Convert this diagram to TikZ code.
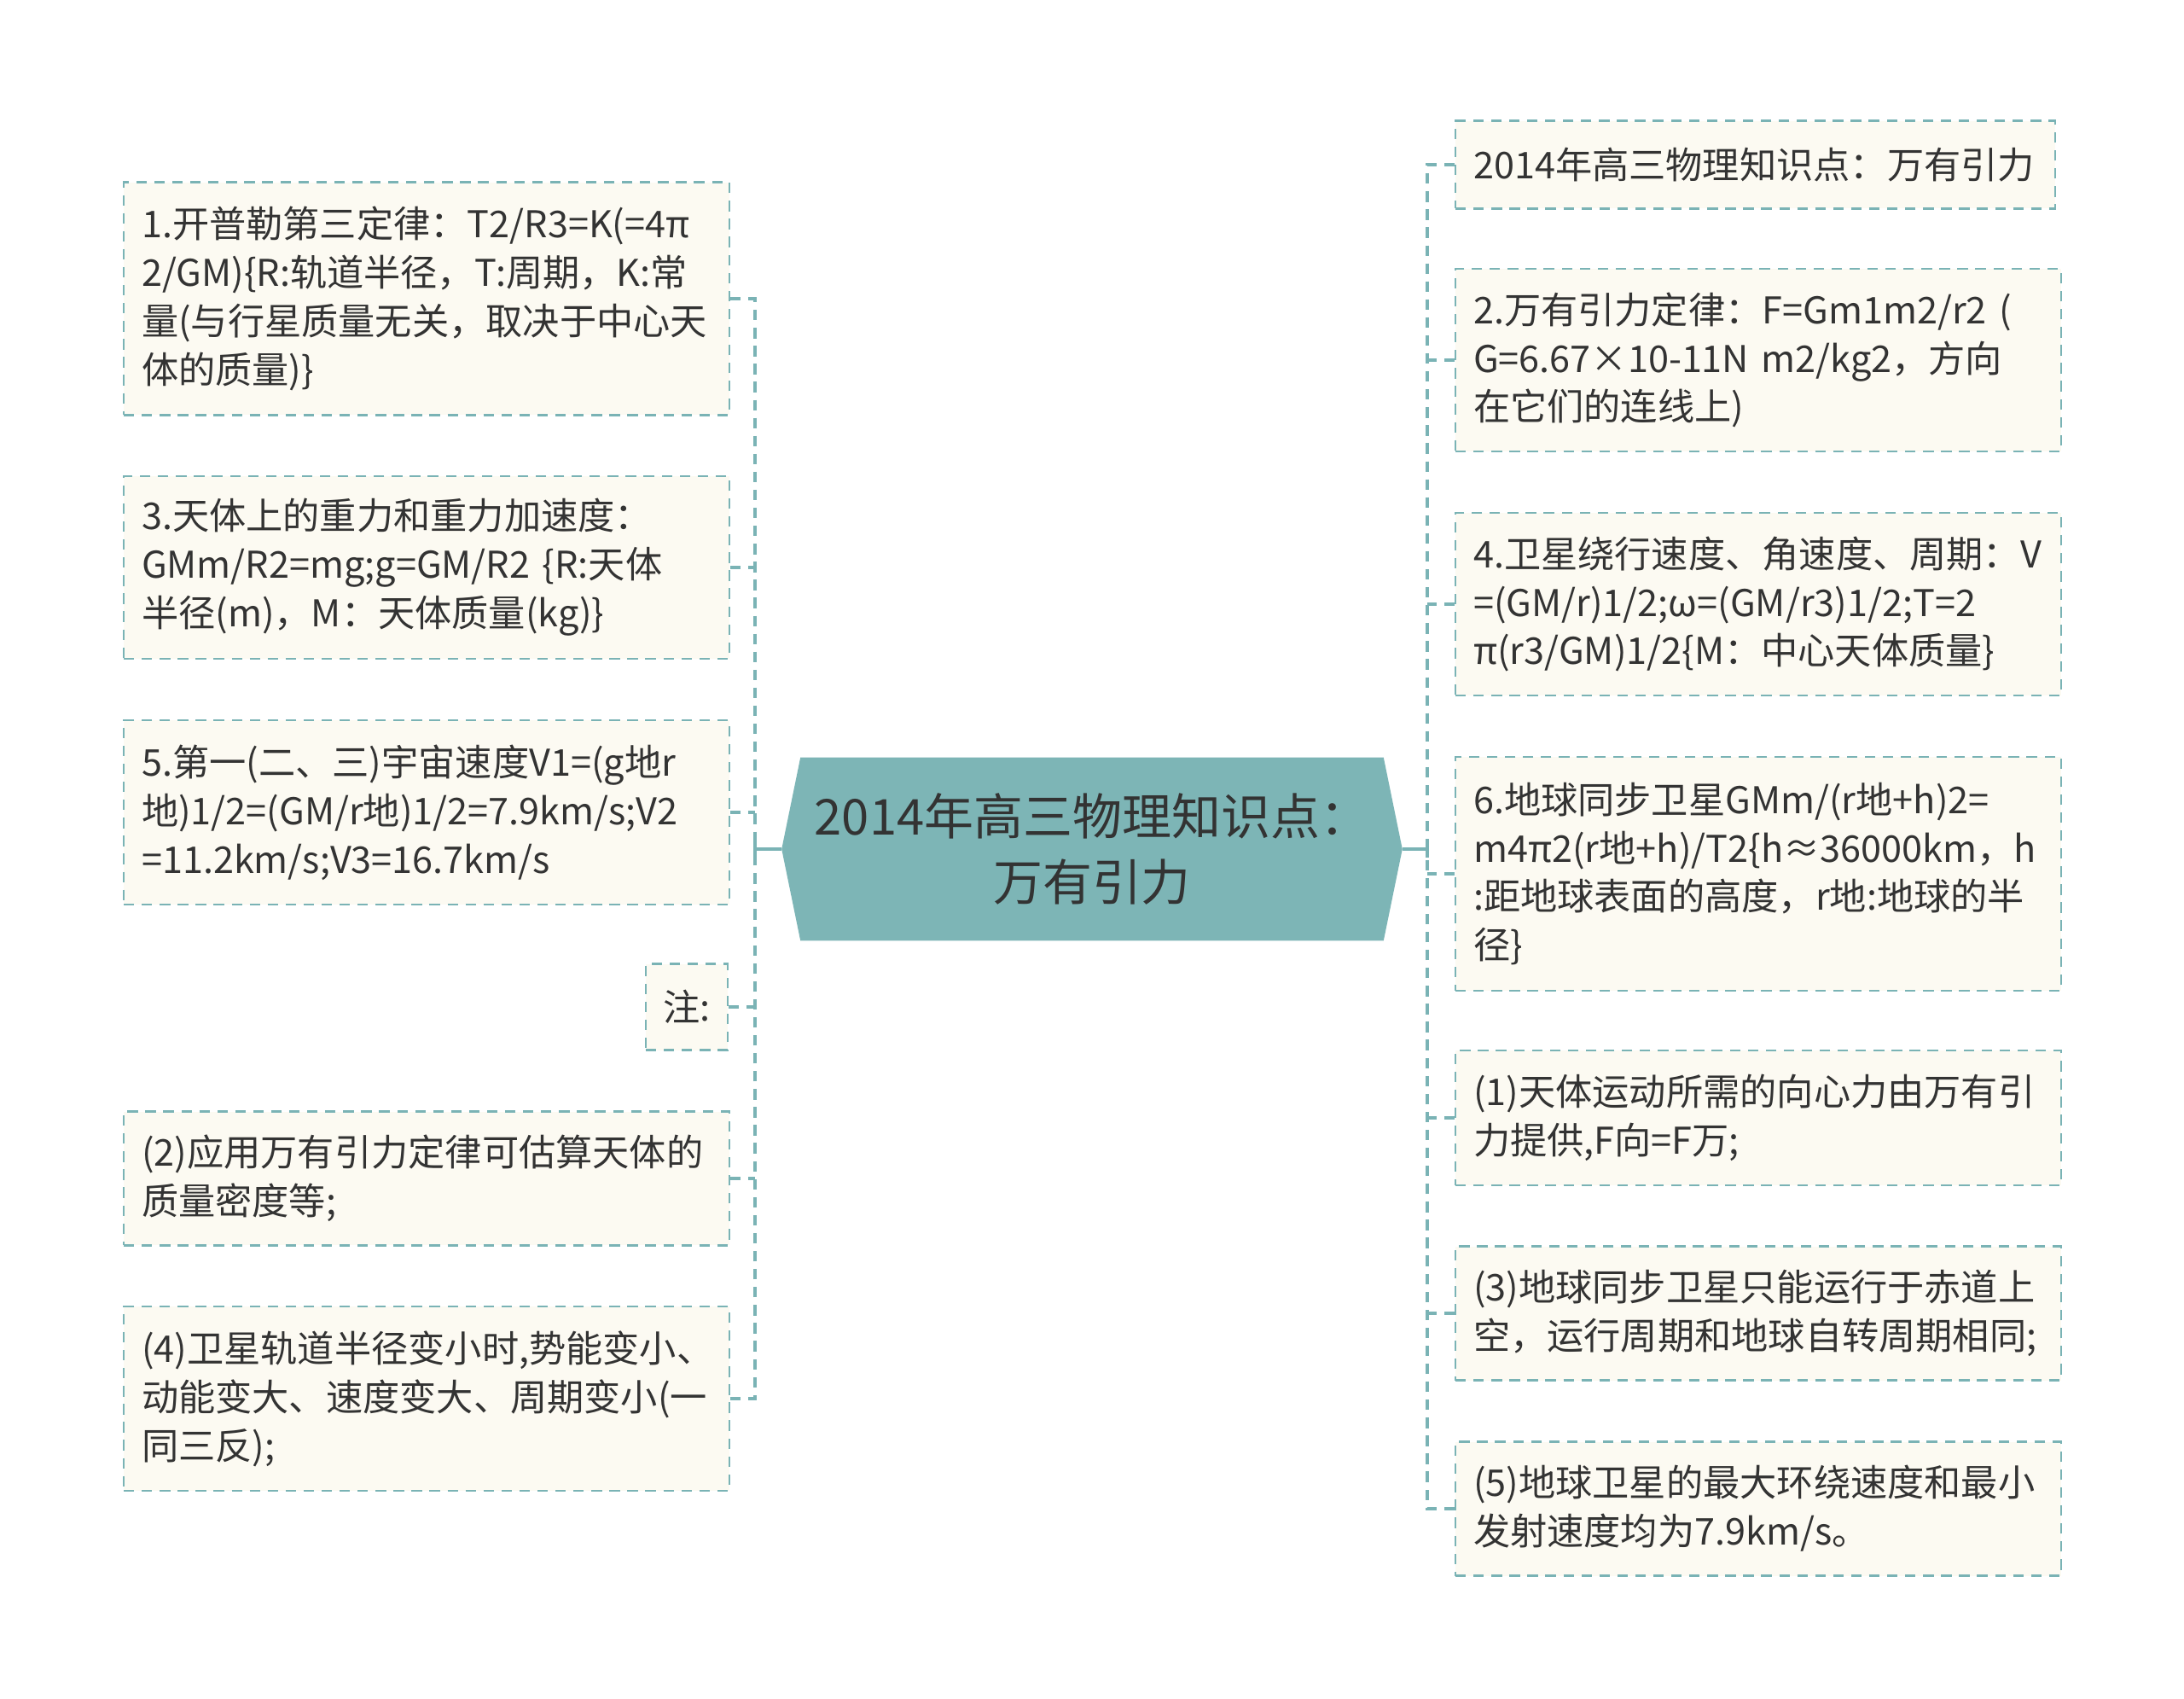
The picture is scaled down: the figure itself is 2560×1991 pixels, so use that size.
\documentclass[tikz,border=0pt]{standalone}
\usepackage{fontspec}
\setmainfont{Noto Sans CJK SC}
\usetikzlibrary{positioning,calc,backgrounds}
\definecolor{mapteal}{HTML}{7AB3B5}
\definecolor{hubteal}{HTML}{7DB5B6}
\definecolor{notecream}{HTML}{FCFAF2}
\definecolor{inkgray}{HTML}{333333}

\tikzset{
    leaf/.style={draw=mapteal, fill=notecream, line width=1.2pt, dash pattern=on 7pt off 5pt,
        text=inkgray, font=\fontsize{24.6}{32.4}\selectfont, align=left,
        inner xsep=0.42cm, inner ysep=0pt, text width=13.36cm, minimum height=#1},
    tag/.style={draw=mapteal, fill=notecream, line width=1.2pt, dash pattern=on 7pt off 5pt,
        text=inkgray, font=\fontsize{24.6}{32.4}\selectfont,
        minimum width=1.92cm, minimum height=2.02cm},
    hub/.style={text=inkgray, font=\fontsize{33}{44}\selectfont, align=center,
        minimum width=14.54cm, minimum height=4.28cm},
    trunk/.style={draw=mapteal, line width=2.2pt},
    twig/.style={draw=mapteal, line width=2.2pt, dash pattern=on 7pt off 5pt}
}

\begin{document}
\begin{tikzpicture}[x=0.02cm, y=-0.02cm]
    % Central topic
    \node[hub] (hub) at (1280,995) {2014年高三物理知识点：\\万有引力};
    \begin{scope}[on background layer]
        \fill[white] (0,0) rectangle (2560,1991);
        \fill[hubteal] ($(hub.north west)+(22,0)$) -- ($(hub.north east)+(-22,0)$) -- (hub.east)
            -- ($(hub.south east)+(-22,0)$) -- ($(hub.south west)+(22,0)$) -- (hub.west) -- cycle;
    \end{scope}

    % Left branch
    \node[leaf=5.46cm, anchor=west] (l1) at (144,350) {1.开普勒第三定律：T2/R3=K(=4π\\2/GM)\{R:轨道半径，T:周期，K:常\\量(与行星质量无关，取决于中心天\\体的质量)\}};
    \node[leaf=4.28cm, anchor=west] (l2) at (144,665) {3.天体上的重力和重力加速度：\\GMm/R2=mg;g=GM/R2 \{R:天体\\半径(m)，M：天体质量(kg)\}};
    \node[leaf=4.32cm, anchor=west] (l3) at (144,952) {5.第一(二、三)宇宙速度V1=(g地r\\地)1/2=(GM/r地)1/2=7.9km/s;V2\\=11.2km/s;V3=16.7km/s};
    \node[tag, anchor=east] (l4) at (854,1180) {注:};
    \node[leaf=3.14cm, anchor=west] (l5) at (144,1381) {(2)应用万有引力定律可估算天体的\\质量密度等;};
    \node[leaf=4.32cm, anchor=west] (l6) at (144,1639) {(4)卫星轨道半径变小时,势能变小、\\动能变大、速度变大、周期变小(一\\同三反);};

    % Right branch
    \node[leaf=2.06cm, text width=13.22cm, anchor=west] (r1) at (1705,193) {2014年高三物理知识点：万有引力};
    \node[leaf=4.28cm, anchor=west] (r2) at (1705,422) {2.万有引力定律：F=Gm1m2/r2 (\\G=6.67×10-11N m2/kg2，方向\\在它们的连线上)};
    \node[leaf=4.28cm, anchor=west] (r3) at (1705,708) {4.卫星绕行速度、角速度、周期：V\\=(GM/r)1/2;ω=(GM/r3)1/2;T=2\\π(r3/GM)1/2\{M：中心天体质量\}};
    \node[leaf=5.48cm, anchor=west] (r4) at (1705,1024) {6.地球同步卫星GMm/(r地+h)2=\\m4π2(r地+h)/T2\{h≈36000km，h\\:距地球表面的高度，r地:地球的半\\径\}};
    \node[leaf=3.16cm, anchor=west] (r5) at (1705,1310) {(1)天体运动所需的向心力由万有引\\力提供,F向=F万;};
    \node[leaf=3.14cm, anchor=west] (r6) at (1705,1539) {(3)地球同步卫星只能运行于赤道上\\空，运行周期和地球自转周期相同;};
    \node[leaf=3.14cm, anchor=west] (r7) at (1705,1768) {(5)地球卫星的最大环绕速度和最小\\发射速度均为7.9km/s。};

    % Connectors
    \coordinate (spL) at (885,995);
    \coordinate (spR) at (1673,995);
    \draw[trunk] (hub.west) -- (spL);
    \draw[trunk] ($(spL)+(0,-10)$) -- ($(spL)+(0,10)$);
    \draw[trunk] (hub.east) -- (spR);
    \draw[trunk] ($(spR)+(0,-10)$) -- ($(spR)+(0,10)$);

    \draw[twig] (l1.east) -| (spL);
    \draw[twig] (l6.east) -| (spL);
    \foreach \n in {l2,l3,l4,l5}
        \draw[twig] (\n.east) -- (\n.east -| spL);

    \draw[twig] (r1.west) -| (spR);
    \draw[twig] (r7.west) -| (spR);
    \foreach \n in {r2,r3,r4,r5,r6}
        \draw[twig] (\n.west) -- (\n.west -| spR);
\end{tikzpicture}
\end{document}
